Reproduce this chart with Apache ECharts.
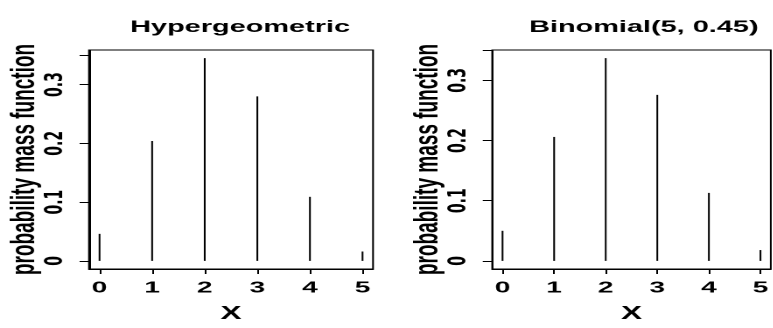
<!DOCTYPE html>
<html>
<head>
<meta charset="utf-8">
<script src="https://cdn.jsdelivr.net/npm/echarts@6/dist/echarts.min.js"></script>
<style>
	html, body { margin: 0; padding: 0; background: #fff; overflow: hidden; }
	/* 原图整体被横向拉伸了约1.75倍，这里用同样的比例拉伸画布 */
	#box { width: 441.714px; height: 328px; transform: scaleX(1.75); transform-origin: 0 0; }
</style>
</head>
<body>
<div id="box"></div>
<script>
// 数据
var xValues = [0, 1, 2, 3, 4, 5];
var hyperPmf = [0.046, 0.204, 0.345, 0.280, 0.109, 0.016];
var binomPmf = [0.050, 0.206, 0.337, 0.276, 0.113, 0.018];
var titles = ['Hypergeometric', 'Binomial(5, 0.45)'];
var yTicks = [0, 0.1, 0.2, 0.3, 0.35];
var yLabels = [0, 0.1, 0.2, 0.3];

var chartDom = document.getElementById('box');
var myChart = echarts.init(chartDom, null, { devicePixelRatio: 2 });

var font = 'Liberation Sans, Arial, sans-serif';

function makeGrid(left) {
	return {
		left: left, top: 50, width: 162.3, height: 228.3,
		show: true, borderColor: '#000', borderWidth: 1
	};
}

function makeX(idx) {
	return {
		gridIndex: idx,
		type: 'value',
		min: -0.2,
		max: 5.2,
		name: 'X',
		nameLocation: 'middle',
		nameGap: 36,
		nameTextStyle: { color: '#000', fontFamily: font, fontWeight: 'bold', fontSize: 18 },
		axisLine: { show: true, onZero: false, lineStyle: { color: '#000', width: 1 } },
		axisTick: { show: true, length: 5, customValues: xValues, lineStyle: { color: '#000' } },
		axisLabel: { customValues: xValues, margin: 11, color: '#000', fontFamily: font, fontWeight: 'bold', fontSize: 16 },
		splitLine: { show: false }
	};
}

function makeY(idx, data) {
	var top = Math.max.apply(null, data);
	return {
		gridIndex: idx,
		type: 'value',
		min: -0.04 * top,
		max: 1.04 * top,
		name: 'probability mass function',
		nameLocation: 'middle',
		nameRotate: 90,
		nameGap: 21,
		nameTextStyle: { color: '#000', fontFamily: font, fontWeight: 'bold', fontSize: 19 },
		axisLine: { show: true, onZero: false, lineStyle: { color: '#000', width: 1 } },
		axisTick: { show: true, length: 5.4, customValues: yTicks, lineStyle: { color: '#000' } },
		axisLabel: {
			customValues: yLabels, rotate: 90, margin: 12, color: '#000',
			fontFamily: 'DejaVu Sans', fontWeight: 'bold', fontSize: 14
		},
		splitLine: { show: false }
	};
}

function makeSeries(idx, data) {
	return {
		type: 'bar',
		xAxisIndex: idx,
		yAxisIndex: idx,
		barWidth: 1,
		itemStyle: { color: '#000' },
		data: xValues.map(function(x, i) { return [x, data[i]]; })
	};
}

var option = {
	backgroundColor: '#fff',
	animation: false,
	title: [{
		text: titles[0], left: 132.2, top: 14, textAlign: 'center',
		textStyle: { color: '#000', fontFamily: font, fontWeight: 'bold', fontSize: 16.5 }
	}, {
		text: titles[1], left: 362.9, top: 14, textAlign: 'center',
		textStyle: { color: '#000', fontFamily: font, fontWeight: 'bold', fontSize: 16.5 }
	}],
	grid: [makeGrid(50.86), makeGrid(281.26)],
	xAxis: [makeX(0), makeX(1)],
	yAxis: [makeY(0, hyperPmf), makeY(1, binomPmf)],
	series: [makeSeries(0, hyperPmf), makeSeries(1, binomPmf)]
};

myChart.setOption(option);
</script>
</body>
</html>
